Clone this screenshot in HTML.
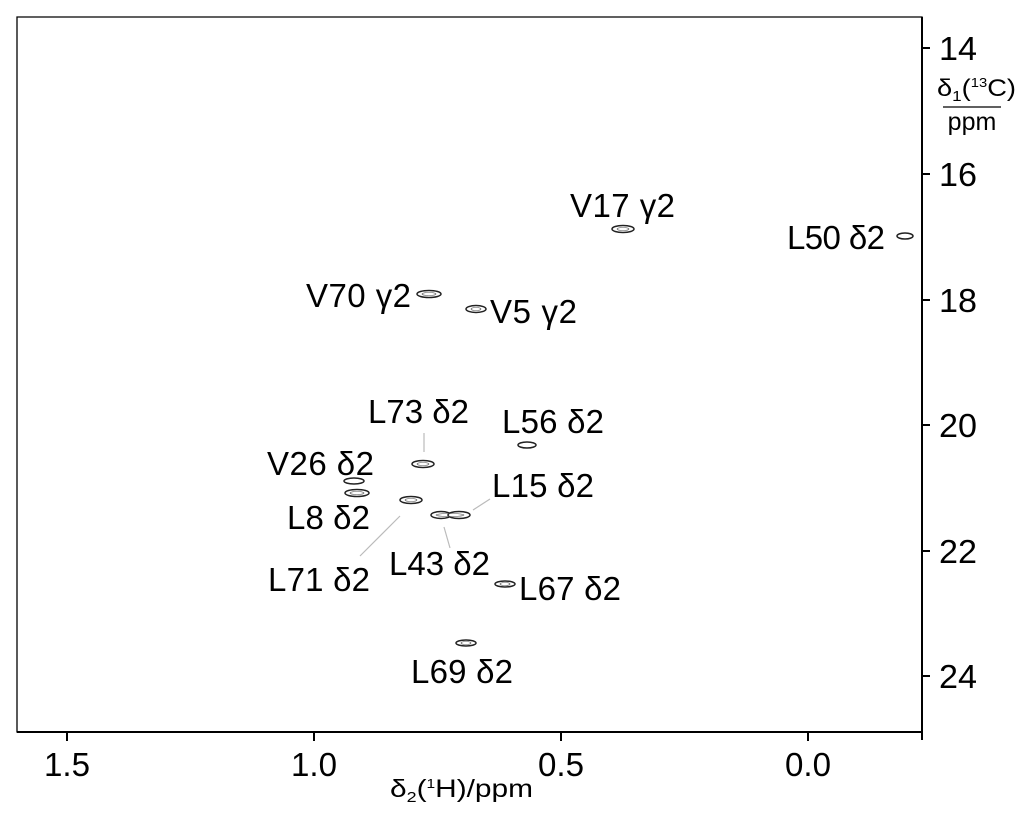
<!DOCTYPE html>
<html><head><style>body{margin:0;background:#fff}svg{display:block}</style></head><body>
<svg width="1033" height="826" xmlns="http://www.w3.org/2000/svg" font-family="Liberation Sans, DejaVu Sans, sans-serif">
<rect x="0" y="0" width="1033" height="826" fill="#fff"/>
<path d="M17 17 H922 V732 H17 Z" fill="none" stroke="#000" stroke-width="1.3"/>
<path d="M17 732 H922" stroke="#000" stroke-width="2"/>
<path d="M922 17 V740" stroke="#000" stroke-width="2"/>
<g stroke="#000" stroke-width="2">
<path d="M67 732v9M314 732v9M561 732v9M808 732v9"/>
<path d="M922 48h8M922 174h8M922 300h8M922 425h8M922 551h8M922 676h8"/>
</g>
<g font-size="33" text-anchor="middle" fill="#000">
<text x="67" y="776" textLength="46" lengthAdjust="spacingAndGlyphs">1.5</text>
<text x="314" y="776" textLength="46" lengthAdjust="spacingAndGlyphs">1.0</text>
<text x="561" y="776" textLength="46" lengthAdjust="spacingAndGlyphs">0.5</text>
<text x="808" y="776" textLength="46" lengthAdjust="spacingAndGlyphs">0.0</text>
</g>
<text x="390" y="797" font-size="25" fill="#000" textLength="143" lengthAdjust="spacingAndGlyphs">δ<tspan font-size="15" dy="5">2</tspan><tspan dy="-5">(</tspan><tspan font-size="13" dy="-9">1</tspan><tspan dy="9">H)/ppm</tspan></text>
<g font-size="33" fill="#000">
<text x="939" y="60" textLength="38" lengthAdjust="spacingAndGlyphs">14</text><text x="939" y="186" textLength="38" lengthAdjust="spacingAndGlyphs">16</text><text x="939" y="312" textLength="38" lengthAdjust="spacingAndGlyphs">18</text>
<text x="939" y="437" textLength="38" lengthAdjust="spacingAndGlyphs">20</text><text x="939" y="563" textLength="38" lengthAdjust="spacingAndGlyphs">22</text><text x="939" y="688" textLength="38" lengthAdjust="spacingAndGlyphs">24</text>
</g>
<text x="937" y="96" font-size="24" fill="#000" textLength="79" lengthAdjust="spacingAndGlyphs">δ<tspan font-size="15" dy="5">1</tspan><tspan dy="-5">(</tspan><tspan font-size="13" dy="-9">13</tspan><tspan dy="9">C)</tspan></text>
<path d="M943 107H1001" stroke="#000" stroke-width="1.2"/>
<text x="972" y="130" font-size="25" text-anchor="middle" fill="#000">ppm</text>
<g fill="#fff" stroke="#222" stroke-width="1.5">
<ellipse cx="623" cy="229" rx="11" ry="3.5"/><ellipse cx="905" cy="236" rx="8" ry="3"/>
<ellipse cx="429" cy="294" rx="12" ry="3.5"/><ellipse cx="476" cy="309" rx="10" ry="3.5"/>
<ellipse cx="527" cy="445" rx="9" ry="3"/><ellipse cx="423" cy="464" rx="11" ry="3.5"/>
<ellipse cx="354" cy="481" rx="10" ry="3"/><ellipse cx="357" cy="493" rx="12" ry="3.5"/>
<ellipse cx="411" cy="500" rx="11" ry="3.5"/><ellipse cx="441" cy="515" rx="10" ry="3.5"/>
<ellipse cx="459" cy="515" rx="11" ry="3.5"/><ellipse cx="505" cy="584" rx="10" ry="3"/>
<ellipse cx="466" cy="643" rx="10" ry="3"/>
</g>
<g fill="none" stroke="#555" stroke-width="0.6">
<ellipse cx="623" cy="229" rx="6" ry="1.5"/><ellipse cx="429" cy="294" rx="7" ry="1.5"/><ellipse cx="476" cy="309" rx="5" ry="1.5"/><ellipse cx="423" cy="464" rx="6" ry="1.5"/><ellipse cx="357" cy="493" rx="7" ry="1.5"/><ellipse cx="411" cy="500" rx="6" ry="1.5"/><ellipse cx="450" cy="515" rx="14" ry="1.5"/><ellipse cx="505" cy="584" rx="5" ry="1.5"/><ellipse cx="466" cy="643" rx="5" ry="1.5"/>
</g>
<g stroke="#bbb" stroke-width="1.2">
<path d="M424 433V452M473 510L490 499M444 527L450 548M360 556L400 516"/>
</g>
<g font-size="33" fill="#000" lengthAdjust="spacingAndGlyphs">
<text x="570" y="217" textLength="105">V17 γ2</text><text x="787" y="249" textLength="98">L50 δ2</text>
<text x="306" y="307" textLength="105">V70 γ2</text><text x="490" y="323" textLength="87">V5 γ2</text>
<text x="368" y="423" textLength="101">L73 δ2</text><text x="502" y="433" textLength="102">L56 δ2</text>
<text x="267" y="475" textLength="107">V26 δ2</text><text x="492" y="497" textLength="102">L15 δ2</text>
<text x="287" y="529" textLength="83">L8 δ2</text><text x="389" y="575" textLength="101">L43 δ2</text>
<text x="268" y="591" textLength="102">L71 δ2</text><text x="519" y="600" textLength="102">L67 δ2</text>
<text x="411" y="683" textLength="102">L69 δ2</text>
</g>
</svg>
</body></html>
